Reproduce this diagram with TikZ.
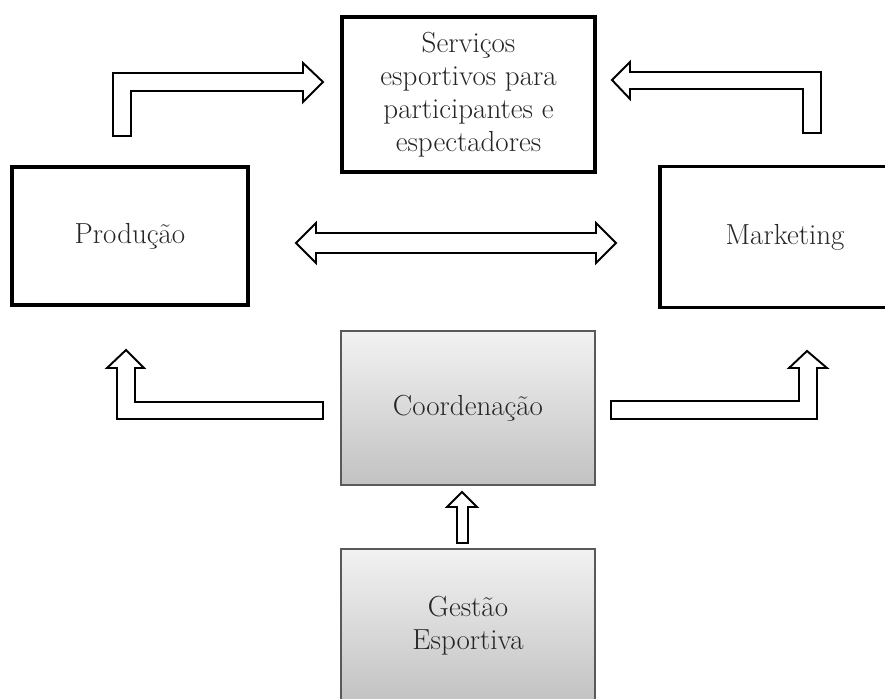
\documentclass[tikz,border=0pt]{standalone}
\usepackage{tikz}
\usetikzlibrary{calc}
\definecolor{txtgray}{HTML}{262626}
\definecolor{boxtop}{HTML}{F2F2F2}
\definecolor{boxbot}{HTML}{C2C2C2}
\tikzset{
  whitebox/.style={draw=black, line width=1.8pt, fill=white, text=txtgray,
    align=center, font=\fontsize{16.5}{18.8}\selectfont},
  graybox/.style={draw=black!65, line width=0.9pt, top color=boxtop, bottom color=boxbot,
    text=txtgray, align=center, font=\fontsize{16.5}{18.8}\selectfont},
  blockarrow/.style={draw=black, line width=1.1pt, fill=white, line join=miter}
}
\begin{document}
\begin{tikzpicture}[x=0.02cm, y=-0.02cm]
    \useasboundingbox (0,0) rectangle (885,699);
    % boxes
    \node[whitebox, minimum width=5.06cm, minimum height=3.1cm] (servicos) at (468.5,94.5)
      {Serviços\\esportivos para\\participantes e\\espectadores};
    \node[whitebox, minimum width=4.72cm, minimum height=2.76cm] (producao) at (130,236) {Produção};
    % marketing box runs off the right edge
    \node[whitebox, draw=none, minimum width=4.5cm, minimum height=2.76cm] (marketing) at (785,237) {Marketing};
    \draw[line width=1.8pt] (marketing.north east) -- (marketing.north -| 660,0)
      -- (marketing.south -| 660,0) -- (marketing.south east);
    \node[graybox, minimum width=5.08cm, minimum height=3.08cm] (coordenacao) at (468,408) {Coordenação};
    \node[graybox, minimum width=5.08cm, minimum height=3.08cm] (gestao) at (468,626) {Gestão\\Esportiva};

    % top arrows
    \draw[blockarrow] (113,136) -- (113,73) -- (303,73) -- (303,63) -- (323,82)
      -- (303,102) -- (303,91) -- (131,91) -- (131,136) -- cycle;
    \draw[blockarrow] (821,133) -- (821,72) -- (630,72) -- (630,62) -- (612,80)
      -- (630,99) -- (630,89) -- (803,89) -- (803,133) -- cycle;
    % middle arrow
    \draw[blockarrow] (296,243) -- (316,223) -- (316,233) -- (596,233) -- (596,223)
      -- (616,243) -- (596,263) -- (596,253) -- (316,253) -- (316,263) -- cycle;
    % bottom arrows
    \draw[blockarrow] (323,402) -- (135,402) -- (135,368) -- (144,368) -- (126,350)
      -- (107,368) -- (117,368) -- (117,419) -- (323,419) -- cycle;
    \draw[blockarrow] (611,401) -- (799,401) -- (799,368) -- (789,368) -- (807,351)
      -- (827,368) -- (817,368) -- (817,419) -- (611,419) -- cycle;
    \draw[blockarrow] (457,543) -- (457,507) -- (447,507) -- (462,492) -- (477,507)
      -- (468,507) -- (468,543) -- cycle;
\end{tikzpicture}
\end{document}
